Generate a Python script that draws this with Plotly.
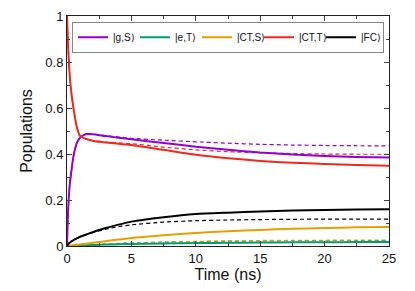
import plotly.graph_objects as go

time_ns = [0, 0.05, 0.1, 0.2, 0.35, 0.5, 0.75, 1.0, 1.5, 2, 3, 4, 5, 7.5, 10, 12.5, 15, 17.5, 20, 22.5, 25]

gS_solid = [0, 0.10, 0.17, 0.26, 0.33, 0.39, 0.445, 0.47, 0.487, 0.486, 0.478, 0.471, 0.464, 0.448, 0.432, 0.418, 0.406, 0.398, 0.391, 0.387, 0.385]
gS_dash = [0, 0.10, 0.17, 0.26, 0.33, 0.39, 0.445, 0.47, 0.487, 0.486, 0.480, 0.474, 0.468, 0.460, 0.453, 0.447, 0.442, 0.439, 0.437, 0.436, 0.435]
eT_solid = [0, 0, 0, 0.0005, 0.001, 0.001, 0.0015, 0.002, 0.003, 0.004, 0.006, 0.0075, 0.009, 0.011, 0.013, 0.014, 0.015, 0.016, 0.0165, 0.017, 0.017]
eT_dash = [0, 0, 0, 0.0005, 0.001, 0.0015, 0.002, 0.003, 0.004, 0.005, 0.008, 0.011, 0.013, 0.017, 0.019, 0.021, 0.022, 0.023, 0.0235, 0.024, 0.024]
CTS_solid = [0, 0, 0.0005, 0.001, 0.002, 0.003, 0.005, 0.007, 0.010, 0.014, 0.021, 0.028, 0.035, 0.047, 0.057, 0.064, 0.070, 0.075, 0.078, 0.081, 0.083]
CTS_dash = [0, 0, 0, 0.0005, 0.001, 0.0015, 0.002, 0.003, 0.004, 0.005, 0.007, 0.010, 0.012, 0.016, 0.020, 0.022, 0.024, 0.025, 0.025, 0.026, 0.026]
CTT_solid = [1.0, 0.92, 0.85, 0.75, 0.66, 0.60, 0.52, 0.48, 0.465, 0.458, 0.450, 0.445, 0.439, 0.418, 0.397, 0.382, 0.370, 0.362, 0.357, 0.352, 0.349]
CTT_dash = [1.0, 0.92, 0.85, 0.75, 0.66, 0.60, 0.52, 0.48, 0.465, 0.458, 0.452, 0.449, 0.445, 0.430, 0.418, 0.410, 0.405, 0.402, 0.400, 0.399, 0.399]
FC_solid = [0, 0.004, 0.008, 0.014, 0.020, 0.026, 0.033, 0.040, 0.050, 0.060, 0.078, 0.093, 0.106, 0.125, 0.139, 0.145, 0.150, 0.154, 0.157, 0.159, 0.160]
FC_dash = [0, 0.004, 0.008, 0.014, 0.020, 0.026, 0.033, 0.040, 0.050, 0.058, 0.073, 0.084, 0.092, 0.104, 0.110, 0.113, 0.115, 0.116, 0.117, 0.117, 0.117]

names = ["|g,S\u27e9", "|e,T\u27e9", "|CT,S\u27e9", "|CT,T\u27e9", "|FC\u27e9"]
colors = ["#9400D3", "#009E73", "#E69F00", "#F0281E", "#000000"]
solids = [gS_solid, eT_solid, CTS_solid, CTT_solid, FC_solid]
dashes = [gS_dash, eT_dash, CTS_dash, CTT_dash, FC_dash]

fig = go.Figure()
for n, c, d in zip(names, colors, dashes):
    fig.add_trace(go.Scatter(x=time_ns, y=d, mode="lines", showlegend=False,
                             line=dict(color=c, width=1.2, dash="4px,3px", shape="spline", smoothing=0.6)))
for n, c, s in zip(names, colors, solids):
    fig.add_trace(go.Scatter(x=time_ns, y=s, mode="lines", name=n,
                             line=dict(color=c, width=2, shape="spline", smoothing=0.6)))

axis_common = dict(showgrid=False, zeroline=False, showline=True, linecolor="#222", linewidth=1,
                   mirror="allticks", ticks="inside", ticklen=5, tickcolor="#444", automargin=False,
                   tickfont=dict(family="Liberation Sans, Arial", size=13, color="#111"))
fig.update_xaxes(range=[0, 25], tick0=0, dtick=5,
                 minor=dict(dtick=2.5, ticks="inside", ticklen=3, tickcolor="#444"),
                 title=dict(text="Time (ns)", font=dict(family="Liberation Sans, Arial", size=16, color="#111"), standoff=4),
                 **axis_common)
fig.update_yaxes(range=[0, 1], tick0=0, dtick=0.2, tickformat="~g",
                 minor=dict(dtick=0.1, ticks="inside", ticklen=3, tickcolor="#444"),
                 title=dict(text="Populations", font=dict(family="Liberation Sans, Arial", size=16, color="#111"), standoff=8),
                 **axis_common)

# page body has an 8px default margin, so the figure is offset by 8px
fig.update_layout(
    width=407, height=283,
    margin=dict(l=59, r=26, t=8, b=45, autoexpand=False),
    plot_bgcolor="white", paper_bgcolor="white",
    legend=dict(orientation="h", x=0.5, xanchor="center",
                y=0.975, yanchor="top",
                bordercolor="#888", borderwidth=1, bgcolor="white",
                entrywidth=17, entrywidthmode="pixels", itemwidth=30,
                font=dict(family="Liberation Sans, Arial", size=10, color="#111"),
                tracegroupgap=0),
)

fig.write_html("out.html")
